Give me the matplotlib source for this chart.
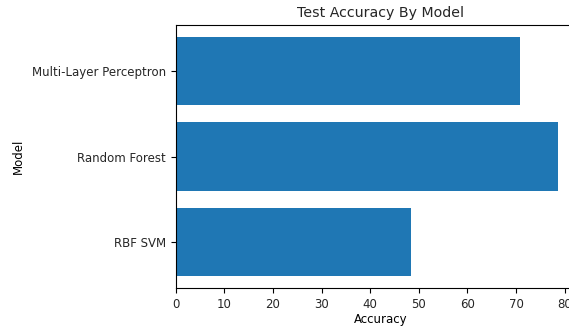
import matplotlib
matplotlib.use("Agg")
import matplotlib.pyplot as plt

models = ['RBF SVM', 'Random Forest', 'Multi-Layer Perceptron']
accuracy = [48.3, 78.7, 70.9]

plt.rcParams['font.size'] = 8.5
plt.rcParams['text.color'] = '#262626'
plt.rcParams['xtick.labelcolor'] = '#262626'
plt.rcParams['ytick.labelcolor'] = '#262626'

fig = plt.figure(figsize=(5.69, 3.27), dpi=100)
# axes run past the right edge, as in the cropped reference
ax = fig.add_axes([0.309, 0.119, 0.72, 0.804])
ax.barh(models, accuracy, color='#1f77b4')
ax.set_xlim(0, 0.72 * 569 / 4.86)
ax.set_xticks(range(0, 81, 10))
ax.set_xlabel('Accuracy', labelpad=1.5)
ax.set_ylabel('Model', labelpad=5)
ax.set_title('Test Accuracy By Model')

fig.savefig('out.png', dpi=100)
